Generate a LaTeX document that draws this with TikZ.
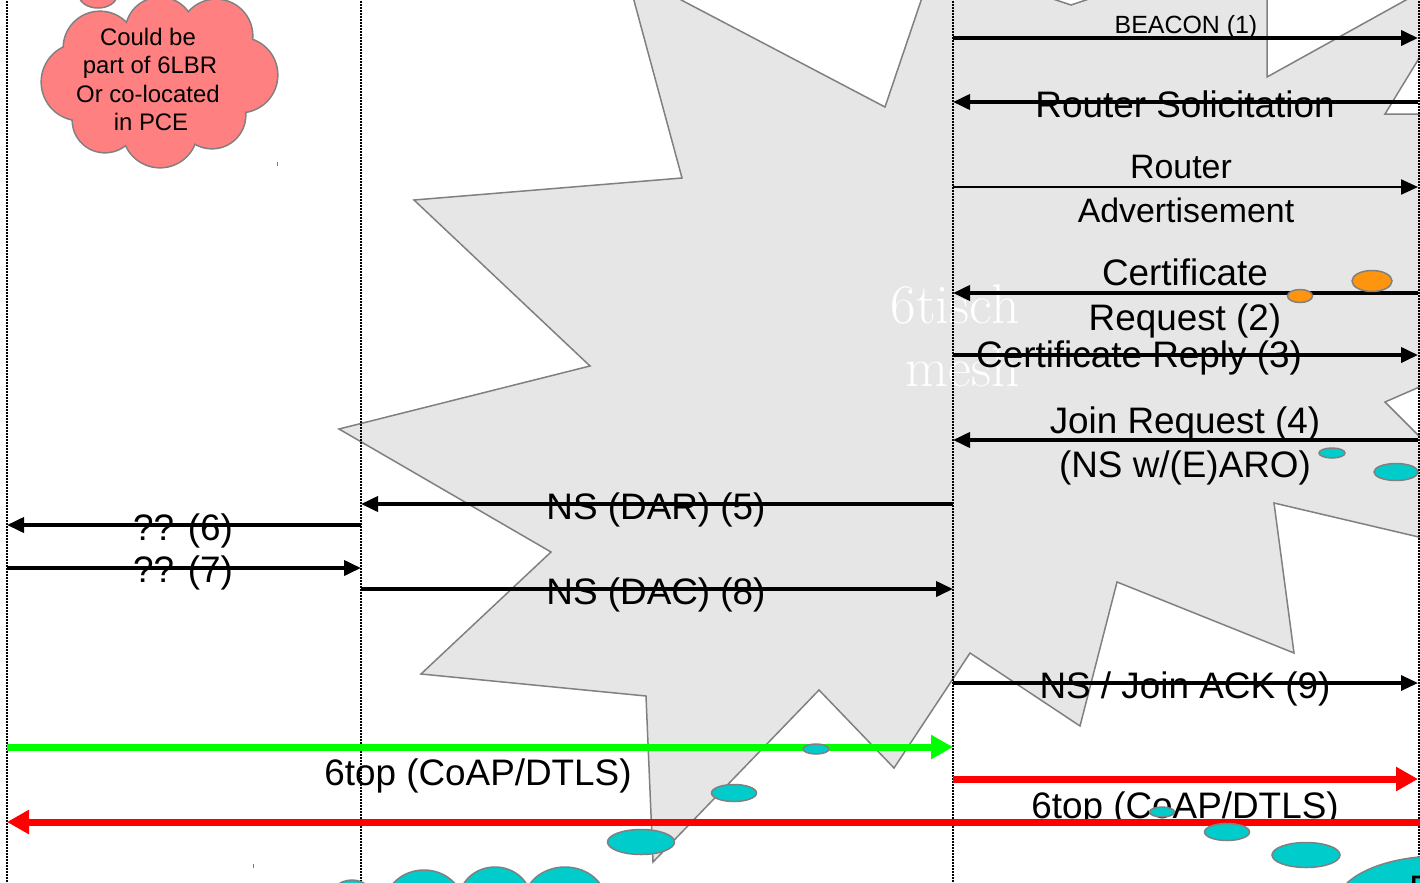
\documentclass[tikz,border=0pt]{standalone}
\usepackage{fontspec}
\newfontfamily\arial{Liberation Sans}
\usetikzlibrary{arrows.meta}
\definecolor{meshgray}{HTML}{E6E6E6}
\definecolor{edgegray}{HTML}{808080}
\definecolor{cloudsalmon}{HTML}{FF8080}
\definecolor{nodecyan}{HTML}{00CCCC}
\definecolor{nodeorange}{HTML}{FF950E}
\definecolor{linkgreen}{HTML}{00FF00}
\definecolor{linkred}{HTML}{FF0000}
\begin{document}
\begin{tikzpicture}[x=1bp,y=-1bp,
  lifeline/.style={black,line width=1.8bp,dash pattern=on 1.6bp off 1.4bp},
  msg/.style={line width=3.8bp,-{Triangle[length=17bp,width=15bp]}},
  thinmsg/.style={line width=2.2bp,-{Triangle[length=17bp,width=15bp]}},
  bigmsg/.style={line width=7bp,-{Triangle[length=22bp,width=23bp]}},
  lbl/.style={font=\arial\fontsize{37}{44}\selectfont,inner sep=0,anchor=base},
  lblra/.style={font=\arial\fontsize{34}{42}\selectfont,inner sep=0,anchor=base},
  lblsmall/.style={font=\arial\fontsize{25}{30}\selectfont,inner sep=0,anchor=base},
  cloudtxt/.style={font=\arial\fontsize{24}{29}\selectfont,inner sep=0,anchor=base},
  meshtxt/.style={font=\rmfamily\fontsize{56}{66}\selectfont,text=white,inner sep=0,anchor=base},
  bubble/.style={fill=nodecyan,draw=edgegray,line width=1.5bp},
  obubble/.style={fill=nodeorange,draw=edgegray,line width=1.5bp}]
\useasboundingbox (0,0) rectangle (1420,882);
\clip (0,0) rectangle (1420,882);

% the 6tisch mesh burst
\filldraw[fill=meshgray,draw=edgegray,line width=1.5bp,line join=miter]
  (626,-29) -- (682,178) -- (414,200) -- (590,366) -- (339,429) -- (551,552)
  -- (421,674) -- (646,696) -- (653,862) -- (819,690) -- (894,768) -- (970,653)
  -- (1080,726) -- (1117,582) -- (1294,653) -- (1274,503) -- (1440,542)
  -- (1440,457) -- (1385,402) -- (1440,378) -- (1440,114) -- (1385,114)
  -- (1440,24) -- (1442,-20) -- (1267,77) -- (1267,-20) -- (1089,-1)
  -- (1071,5) -- (1053,-1) -- (928,-20) -- (885,107) -- cycle;
\node[meshtxt] (mesh1) at (955,323) {6tisch};
\node[meshtxt] (mesh2) at (963,386) {mesh};

% lifelines
\coordinate (jrcTop) at (7,-5);    \coordinate (jrcBot) at (7,887);
\coordinate (lbrTop) at (361,-5);  \coordinate (lbrBot) at (361,887);
\coordinate (prxTop) at (953,-5);  \coordinate (prxBot) at (953,887);
\coordinate (pldTop) at (1419,-5); \coordinate (pldBot) at (1419,887);
\draw[lifeline] (jrcTop) -- (jrcBot);
\draw[lifeline] (lbrTop) -- (lbrBot);
\draw[lifeline] (prxTop) -- (prxBot);
\draw[lifeline] (pldTop) -- (pldBot);

% message end points
\coordinate (b1) at (953,38);   \coordinate (b2) at (1418,38);
\coordinate (rs1) at (1418,102); \coordinate (rs2) at (953,102);
\coordinate (ra1) at (953,187);  \coordinate (ra2) at (1418,187);
\coordinate (cq1) at (1418,293); \coordinate (cq2) at (953,293);
\coordinate (cr1) at (953,355);  \coordinate (cr2) at (1418,355);
\coordinate (jq1) at (1418,440); \coordinate (jq2) at (953,440);
\coordinate (dar1) at (953,504); \coordinate (dar2) at (361,504);
\coordinate (q61) at (361,525);  \coordinate (q62) at (7,525);
\coordinate (q71) at (7,568);    \coordinate (q72) at (361,568);
\coordinate (dac1) at (361,589); \coordinate (dac2) at (953,589);
\coordinate (ack1) at (953,683); \coordinate (ack2) at (1418,683);
\coordinate (g1) at (7,747);     \coordinate (g2) at (953,747);
\coordinate (r1) at (953,779);   \coordinate (r2) at (1418,779);
\coordinate (rl1) at (1420,822); \coordinate (rl2) at (7,822);

% messages
\draw[msg] (b1) -- (b2);
\node[lblsmall] (tb) at (1186,33) {BEACON (1)};
\draw[msg] (rs1) -- (rs2);
\node[lbl] (trs) at (1185,117) {Router Solicitation};
\draw[thinmsg] (ra1) -- (ra2);
\node[lblra] (tra1) at (1181,178) {Router};
\node[lblra] (tra2) at (1186,222) {Advertisement};
\draw[msg] (cq1) -- (cq2);
\node[lbl] (tcq1) at (1185,285) {Certificate};
\node[lbl] (tcq2) at (1185,330) {Request (2)};
\draw[msg] (cr1) -- (cr2);
\node[lbl] (tcr) at (1139,367) {Certificate Reply (3)};
\draw[msg] (jq1) -- (jq2);
\node[lbl] (tjq1) at (1185,433) {Join Request (4)};
\node[lbl] (tjq2) at (1185,477) {(NS w/(E)ARO)};
\draw[msg] (dar1) -- (dar2);
\node[lbl] (tdar) at (656,519) {NS (DAR) (5)};
\draw[msg] (q61) -- (q62);
\node[lbl] (tq6) at (183,540) {?? (6)};
\draw[msg] (q71) -- (q72);
\node[lbl] (tq7) at (183,582) {?? (7)};
\draw[msg] (dac1) -- (dac2);
\node[lbl] (tdac) at (656,604) {NS (DAC) (8)};
\draw[msg,line width=3.2bp] (ack1) -- (ack2);
\node[lbl] (tack) at (1185,698) {NS / Join ACK (9)};

\draw[bigmsg,linkgreen] (g1) -- (g2);
\node[lbl] (tg) at (478,785) {6top (CoAP/DTLS)};
\draw[bigmsg,linkred] (r1) -- (r2);
\node[lbl] (tr) at (1185,818) {6top (CoAP/DTLS)};
\draw[bigmsg,linkred] (rl1) -- (rl2);

% thought bubble trails
\draw[obubble] (1372,281) ellipse[x radius=20,y radius=10.5];
\draw[obubble] (1300,296) ellipse[x radius=12.5,y radius=6.5];
\draw[bubble] (1396,472) ellipse[x radius=22,y radius=8.5];
\draw[bubble] (1332,453) ellipse[x radius=13,y radius=5];
\draw[bubble] (816,749) ellipse[x radius=13,y radius=5];
\draw[bubble] (734,793) ellipse[x radius=22.5,y radius=8.5];
\draw[bubble] (641,842) ellipse[x radius=33.5,y radius=12.5];
\draw[bubble] (1162,812) ellipse[x radius=12.5,y radius=5];
\draw[bubble] (1227,832) ellipse[x radius=22.5,y radius=8.5];
\draw[bubble] (1306,855) ellipse[x radius=34,y radius=12.5];

% clouds at the bottom edge
\draw[bubble] (352,905) ellipse[x radius=25,y radius=25];
\draw[bubble] (424,905) ellipse[x radius=39,y radius=35];
\draw[bubble] (495,900) ellipse[x radius=36,y radius=33];
\draw[bubble] (565,902) ellipse[x radius=41,y radius=35];
\draw[bubble] (1440,905) ellipse[x radius=104,y radius=49];
\node[font=\arial\fontsize{37}{44}\selectfont,inner sep=0,anchor=north west] (tp) at (1409,876) {P};

% note cloud
\draw[fill=cloudsalmon,draw=edgegray,line width=1.5bp] (98,-5) ellipse[x radius=19,y radius=13];
\foreach \cx/\cy/\r in {100/48/36,160/32/34,216/36/36,240/75/37,212/115/33,
                        160/130/37,105/120/32,80/82/38}
  \draw[edgegray,line width=3.2bp] (\cx,\cy) circle[radius=\r];
\foreach \cx/\cy/\r in {100/48/36,160/32/34,216/36/36,240/75/37,212/115/33,
                        160/130/37,105/120/32,80/82/38,160/80/50}
  \fill[cloudsalmon] (\cx,\cy) circle[radius=\r];
\node[cloudtxt] (c1) at (148,45) {Could be};
\node[cloudtxt] (c2) at (150,73) {part of 6LBR};
\node[cloudtxt] (c3) at (148,102) {Or co-located};
\node[cloudtxt] (c4) at (151,130) {in PCE};

% stray marks
\draw[edgegray,line width=1bp] (277,162) -- (277,166);
\draw[edgegray,line width=1bp] (253,864) -- (253,868);
\end{tikzpicture}
\end{document}
